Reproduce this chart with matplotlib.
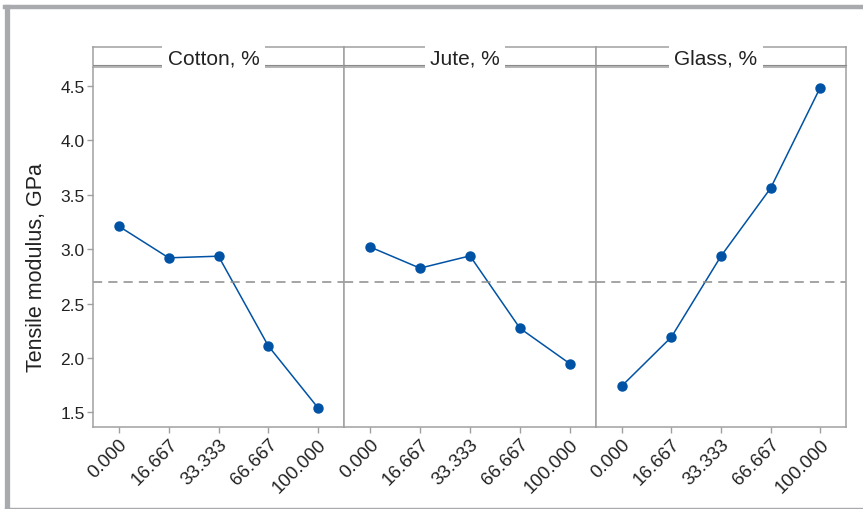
import matplotlib.pyplot as plt
import numpy as np
from matplotlib.lines import Line2D

plt.rcParams['font.family'] = ['Liberation Sans', 'DejaVu Sans']

# Main effects data
levels = ['0.000', '16.667', '33.333', '66.667', '100.000']
factors = ['Cotton, %', 'Jute, %', 'Glass, %']
cotton = [3.21, 2.92, 2.935, 2.11, 1.54]
jute = [3.02, 2.825, 2.938, 2.272, 1.946]
glass = [1.742, 2.192, 2.936, 3.56, 4.485]
grand_mean = 2.694
y_ticks = [1.5, 2.0, 2.5, 3.0, 3.5, 4.0, 4.5]
y_label = 'Tensile modulus, GPa'

series = [cotton, jute, glass]
blue = '#0052a5'
grey = '#a0a0a0'
txt = '#222222'

fig = plt.figure(figsize=(8.63, 5.10), dpi=100)
W, H = 863.0, 510.0

# outer grey frame
frame_c = '#a9aaad'
fig.add_artist(Line2D([6.5 / W, 6.5 / W], [1 - 8 / H, 1 - 508.5 / H], color=frame_c, lw=3.8))
fig.add_artist(Line2D([4.5 / W, 1.0], [1 - 8 / H, 1 - 8 / H], color=frame_c, lw=3.2))
fig.add_artist(Line2D([4.5 / W, 1.0], [1 - 508.5 / H, 1 - 508.5 / H], color=frame_c, lw=1.0))

edges = [93, 344, 596, 846]
top, bottom = 68, 428
strip_top, strip_bot = 48, 66

for i in range(3):
    x0 = edges[i] / W
    w = (edges[i + 1] - edges[i]) / W
    ax = fig.add_axes([x0, 1 - bottom / H, w, (bottom - top) / H])
    x = np.arange(len(levels))
    ax.plot(x, series[i], color=blue, lw=1.1, marker='o', ms=6.5, mfc=blue, mec=blue)
    ax.axhline(grand_mean, color='#8c8c8c', lw=1.1, ls=(0, (6, 4)))
    ax.set_xlim(-0.52, 4.52)
    ax.set_ylim(1.365, 4.674)
    ax.set_xticks(x)
    ax.set_xticklabels(levels, rotation=45, ha='right', rotation_mode='anchor', fontsize=13.5, color=txt)
    ax.set_yticks(y_ticks)
    if i == 0:
        ax.set_yticklabels([f'{v:.1f}' for v in y_ticks], fontsize=12.5, color=txt)
        ax.set_ylabel(y_label, fontsize=15.5, color=txt)
        ax.yaxis.set_label_coords(-0.185, 0.447)
    else:
        ax.tick_params(axis='y', left=False, labelleft=False)
    ax.tick_params(axis='both', color=grey, length=4, width=1, pad=2)
    for s in ax.spines.values():
        s.set_color(grey)
        s.set_linewidth(1.1)

    # strip header
    sa = fig.add_axes([x0, 1 - strip_bot / H, w, (strip_bot - strip_top) / H])
    sa.set_xticks([])
    sa.set_yticks([])
    for s in sa.spines.values():
        s.set_color(grey)
        s.set_linewidth(1.1)
    sa.spines['bottom'].set_color('#8a8a8a')
    sa.spines['bottom'].set_linewidth(0.8)
    sa.text(0.48, 0.38, factors[i], transform=sa.transAxes, ha='center', va='center',
            fontsize=15, color=txt,
            bbox=dict(facecolor='white', edgecolor='none', boxstyle='square,pad=0.25'))

fig.savefig('out.png', dpi=100)
